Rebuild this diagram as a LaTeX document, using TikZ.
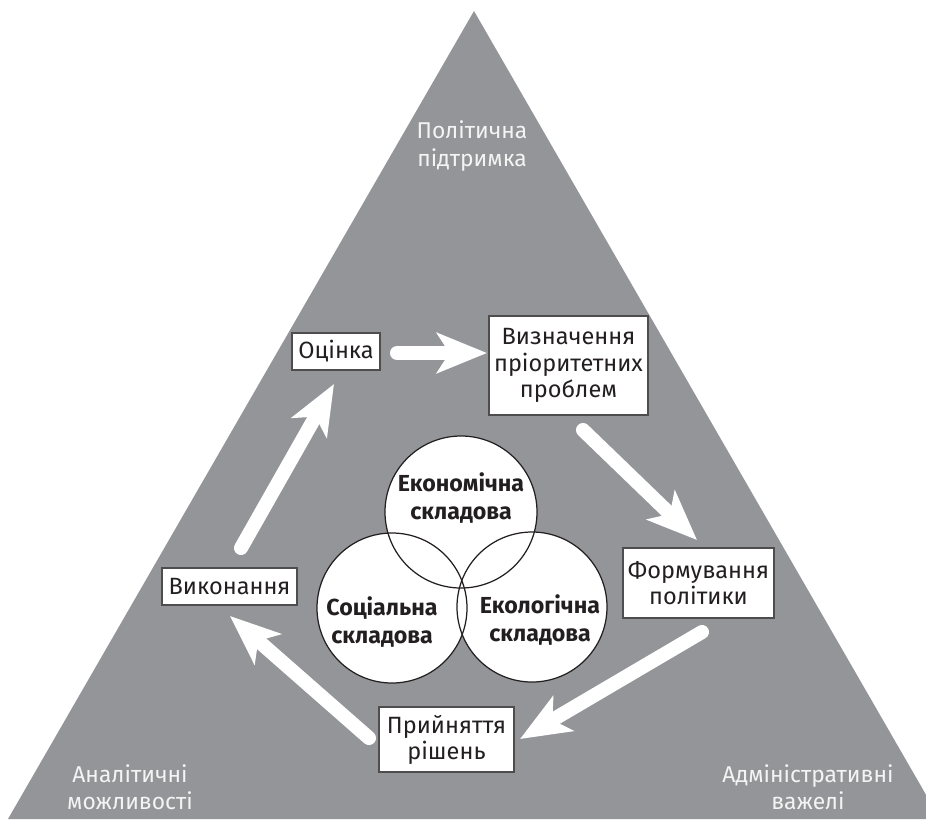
\documentclass[tikz,border=0pt]{standalone}
\usepackage{fontspec}
\setmainfont{Fira Sans}
\usepackage{tikz}
\usetikzlibrary{arrows.meta}

\definecolor{trigrey}{HTML}{939598}
\definecolor{ink}{HTML}{231F20}
\definecolor{pale}{HTML}{F4F4F4}

\tikzset{
    stage/.style = {draw=ink!80, fill=white, line width=0.6pt, text=ink, align=center,
                    inner sep=0pt, font=\fontsize{13.4}{14.9}\selectfont},
    part/.style = {text=ink, align=center, font=\bfseries\fontsize{13.2}{15.6}\selectfont},
    corner/.style = {text=pale, align=center, font=\fontsize{13}{15.6}\selectfont},
    flow/.style = {draw=white, line width=8pt, line cap=round,
                   -{Stealth[length=1cm, width=0.8cm, inset=0.25cm]}},
}

\begin{document}
\begin{tikzpicture}[x=0.02cm, y=-0.02cm]
    \useasboundingbox (0,0) rectangle (926,819);
    \clip (0,0) rectangle (926,819);

    % big triangle
    \fill[trigrey] (474,11) -- (940,819) -- (8,819) -- cycle;
    \node[corner] (polit) at (472,146) {Політична\\підтримка};
    \node[corner] (analit) at (130,787) {Аналітичні\\можливості};
    \node[corner] (admin) at (808,787) {Адміністративні\\важелі};

    % three parts
    \fill[white] (461,512) circle [radius = 76];
    \fill[white] (392,608) circle [radius = 75];
    \fill[white] (532,607) circle [radius = 75];
    \draw[ink, line width=0.7pt] (461,512) circle [radius = 76];
    \draw[ink, line width=0.7pt] (392,608) circle [radius = 75];
    \draw[ink, line width=0.7pt] (532,607) circle [radius = 75];
    \node[part] (econ) at (461,498) {Економічна\\складова};
    \node[part] (soc) at (382,622) {Соціальна\\складова};
    \node[part] (ecol) at (540,620) {Екологічна\\складова};

    % stages of the cycle
    \node[stage, minimum width=1.76cm, minimum height=0.74cm] (ocinka) at (336,351.5) {Оцінка};
    \node[stage, minimum width=3.18cm, minimum height=1.98cm] (vyznach) at (568.5,365.5) {Визначення\\пріоритетних\\проблем};
    \node[stage, minimum width=3.02cm, minimum height=1.40cm] (formuv) at (698.5,583) {Формування\\політики};
    \node[stage, minimum width=2.70cm, minimum height=1.30cm] (pryin) at (446.5,739.5) {Прийняття\\рішень};
    \node[stage, minimum width=2.70cm, minimum height=0.74cm] (vykon) at (229.5,586.5) {Виконання};

    % arrow ends
    \coordinate (a1) at (397,353);  \coordinate (b1) at (487,353);
    \coordinate (a2) at (583,430);  \coordinate (b2) at (697,540);
    \coordinate (a3) at (702,632);  \coordinate (b3) at (520,739);
    \coordinate (a4) at (369,738);  \coordinate (b4) at (230,616);
    \coordinate (a5) at (241,548);  \coordinate (b5) at (334,384);
    \draw[flow] (a1) -- (b1);
    \draw[flow] (a2) -- (b2);
    \draw[flow] (a3) -- (b3);
    \draw[flow] (a4) -- (b4);
    \draw[flow] (a5) -- (b5);
\end{tikzpicture}
\end{document}
